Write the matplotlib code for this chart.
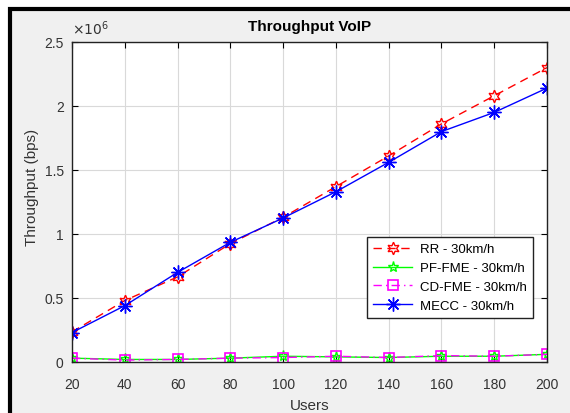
import matplotlib
matplotlib.use("Agg")
import matplotlib.pyplot as plt
from matplotlib.patches import Rectangle
from matplotlib.ticker import FuncFormatter
import numpy as np

# throughput per scheme, bps
users = [20, 40, 60, 80, 100, 120, 140, 160, 180, 200]
rr = [0.235e6, 0.48e6, 0.665e6, 0.925e6, 1.13e6, 1.37e6, 1.61e6, 1.86e6, 2.08e6, 2.30e6]
pf_fme = [0.030e6, 0.020e6, 0.020e6, 0.030e6, 0.045e6, 0.040e6, 0.035e6, 0.045e6, 0.045e6, 0.060e6]
cd_fme = [0.030e6, 0.015e6, 0.020e6, 0.030e6, 0.035e6, 0.045e6, 0.035e6, 0.050e6, 0.045e6, 0.060e6]
mecc = [0.23e6, 0.44e6, 0.70e6, 0.935e6, 1.125e6, 1.33e6, 1.56e6, 1.80e6, 1.95e6, 2.14e6]

labels = ["RR - 30km/h", "PF-FME - 30km/h", "CD-FME - 30km/h", "MECC - 30km/h"]

plt.rcParams['font.family'] = ['Liberation Sans', 'DejaVu Sans']

fig = plt.figure(figsize=(5.7, 4.14), dpi=100, facecolor='white')
# grey figure panel with heavy black edge, kept behind the axes
fig.patches.append(Rectangle((10 / 570, -0.2), 1.2, 0.2 + 1 - 10 / 414,
                             transform=fig.transFigure, facecolor='#f0f0f0',
                             edgecolor='black', linewidth=3, zorder=-10))

ax = fig.add_axes([72 / 570, 1 - 363 / 414, 475 / 570, 320 / 414])
ax.set_facecolor('white')

hexagram = (6, 1, 0)
asterisk = (8, 2, 0)
ax.plot(users, rr, color='red', linestyle=(0, (6, 4)), linewidth=1,
        marker=hexagram, markersize=9, markerfacecolor='none', markeredgewidth=1,
        label=labels[0])
ax.plot(users, pf_fme, color='#00ff00', linestyle='-', linewidth=1,
        marker='*', markersize=8, markerfacecolor='none', markeredgewidth=1,
        label=labels[1])
ax.plot(users, cd_fme, color='magenta', linestyle=(0, (6, 3, 1, 3)), linewidth=1,
        marker='s', markersize=7.5, markerfacecolor='none', markeredgewidth=1.2,
        label=labels[2])
ax.plot(users, mecc, color='blue', linestyle='-', linewidth=1,
        marker=asterisk, markersize=10, markeredgewidth=1,
        label=labels[3])

ax.set_xlim(20, 200)
ax.set_ylim(0, 2.5e6)
ax.set_xticks(users)
ax.set_yticks(np.arange(0, 2.51e6, 0.5e6))
ax.yaxis.set_major_formatter(FuncFormatter(lambda v, p: '%g' % (v / 1e6)))
ax.tick_params(direction='in', top=True, right=True, length=4, width=0.8,
               labelsize=10, labelcolor='#333333')
ax.tick_params(axis='x', pad=11)
ax.tick_params(axis='y', pad=6)
ax.grid(True, color='#d9d9d9', linewidth=0.8)
ax.set_axisbelow(True)
for s in ax.spines.values():
    s.set_linewidth(1)
    s.set_color('#222222')

ax.text(0.0, 1.015, r'$\times10^{6}$', transform=ax.transAxes, fontsize=10,
        color='#333333', ha='left', va='bottom')

ax.set_title('Throughput VoIP', fontsize=11, fontweight='bold', pad=9)
ax.set_xlabel('Users', fontsize=11, color='#333333')
ax.set_ylabel('Throughput (bps)', fontsize=11, color='#333333')
ax.xaxis.set_label_coords(0.5, -0.112)
ax.yaxis.set_label_coords(-0.07, 0.55)

leg = ax.legend(loc='upper left', bbox_to_anchor=(0.621, 0.39), fontsize=9.5,
                frameon=True, fancybox=False, edgecolor='#222222', framealpha=1,
                handlelength=3, borderpad=0.45, labelspacing=0.5, handletextpad=0.6,
                borderaxespad=0)
leg.get_frame().set_linewidth(1)

fig.savefig('out.png', dpi=100, facecolor=fig.get_facecolor())
